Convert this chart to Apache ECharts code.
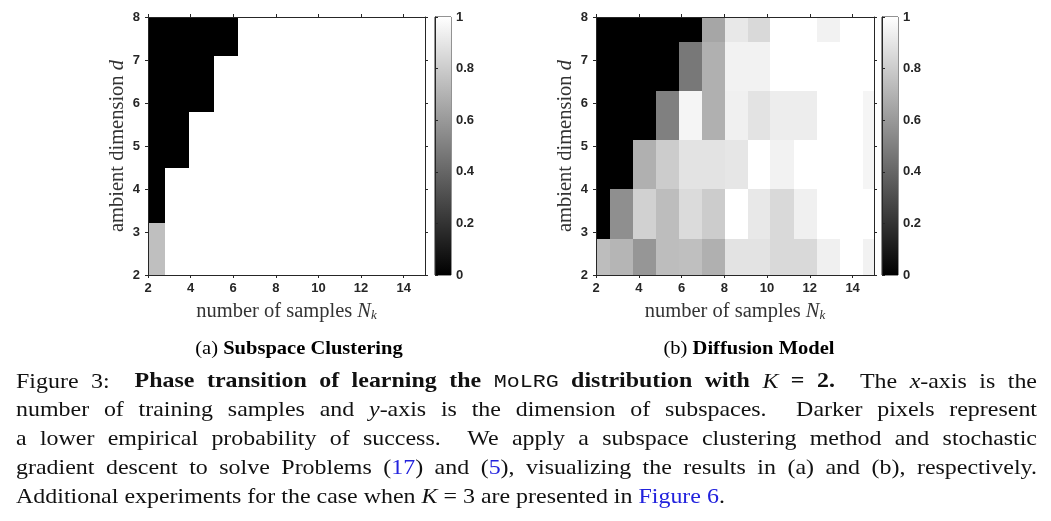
<!DOCTYPE html>
<html>
<head>
<meta charset="utf-8">
<script src="https://cdn.jsdelivr.net/npm/echarts@6/dist/echarts.min.js"></script>
<style>
  html, body { margin: 0; padding: 0; background: #fff; }
  #main { width: 1051px; height: 521px; }
</style>
</head>
<body>
<div id="main"></div>
<script>
// tick labels
const nkTicks = [2, 4, 6, 8, 10, 12, 14];
const dTicks = [2, 3, 4, 5, 6, 7, 8];
const cbTicks = [0, 0.2, 0.4, 0.6, 0.8, 1];

// (a) subspace clustering: bin edges and success rate, rows from d=2 upward
const aNkEdges = [2, 2.78, 3.92, 5.08, 6.21, 7.36, 8.51, 9.66, 10.81, 11.96, 13.11, 14.26, 15];
const aDEdges = [2, 3.21, 4.5, 5.79, 7.09, 8];
const aProb = [
    [0.75, 1, 1, 1, 1, 1, 1, 1, 1, 1, 1, 1],
    [0, 1, 1, 1, 1, 1, 1, 1, 1, 1, 1, 1],
    [0, 0, 1, 1, 1, 1, 1, 1, 1, 1, 1, 1],
    [0, 0, 0, 1, 1, 1, 1, 1, 1, 1, 1, 1],
    [0, 0, 0, 0, 1, 1, 1, 1, 1, 1, 1, 1]
];

// (b) diffusion model
const bNkEdges = [2, 2.67, 3.73, 4.82, 5.89, 6.96, 8.02, 9.12, 10.16, 11.26, 12.32, 13.41, 14.49, 15];
const bDEdges = [2, 2.84, 3.99, 5.15, 6.28, 7.43, 8];
const bProb = [
    [0.74, 0.71, 0.59, 0.74, 0.75, 0.69, 0.89, 0.89, 0.85, 0.85, 0.94, 1, 0.95],
    [0, 0.56, 0.82, 0.74, 0.86, 0.80, 1, 0.91, 0.85, 0.94, 1, 1, 1],
    [0, 0, 0.69, 0.80, 0.89, 0.89, 0.90, 1, 0.95, 1, 1, 1, 0.96],
    [0, 0, 0, 0.50, 0.96, 0.69, 0.94, 0.89, 0.93, 0.93, 1, 1, 0.96],
    [0, 0, 0, 0, 0.47, 0.69, 0.95, 0.95, 1, 1, 1, 1, 1],
    [0, 0, 0, 0, 0, 0.65, 0.91, 0.85, 1, 1, 0.95, 1, 1]
];

// caption text
const capLines = [
    [['Figure 3:  ', 'n'], ['Phase transition of learning the ', 'b'], ['MoLRG', 'm'], [' distribution with ', 'b'], ['K', 'i'], [' = 2.', 'b'], ['  The ', 'n'], ['x', 'i'], ['-axis is the', 'n']],
    [['number of training samples and ', 'n'], ['y', 'i'], ['-axis is the dimension of subspaces.  Darker pixels represent', 'n']],
    [['a lower empirical probability of success.  We apply a subspace clustering method and stochastic', 'n']],
    [['gradient descent to solve Problems (', 'n'], ['17', 'l'], [') and (', 'n'], ['5', 'l'], ['), visualizing the results in (a) and (b), respectively.', 'n']],
    [['Additional experiments for the case when ', 'n'], ['K', 'i'], [' = 3 are presented in ', 'n'], ['Figure 6', 'l'], ['.', 'n']]
];

const SERIF = 'Liberation Serif';
const SANS = 'Liberation Sans';
const AX = '#262626';

const capStyles = {
    n: { fontFamily: SERIF, fontWeight: 'normal', fontStyle: 'normal', fill: '#111', size: 21 },
    b: { fontFamily: SERIF, fontWeight: 'bold', fontStyle: 'normal', fill: '#111', size: 21 },
    i: { fontFamily: SERIF, fontWeight: 'normal', fontStyle: 'italic', fill: '#111', size: 21 },
    m: { fontFamily: 'Liberation Mono', fontWeight: 'normal', fontStyle: 'normal', fill: '#111', size: 19 },
    l: { fontFamily: SERIF, fontWeight: 'normal', fontStyle: 'normal', fill: '#2222dd', size: 21 }
};
const CAP_SX = 1.14;   // Liberation Serif is narrower than Computer Modern

function cells(nkEdges, dEdges, prob) {
    const out = [];
    prob.forEach((row, r) => {
        row.forEach((v, c) => {
            out.push([nkEdges[c], nkEdges[c + 1], dEdges[r], dEdges[r + 1], v]);
        });
    });
    return out;
}

// snap to whole pixels so neighbouring cells meet without seams
function renderCell(params, api) {
    const p0 = api.coord([api.value(0), api.value(3)]).map(Math.round);
    const p1 = api.coord([api.value(1), api.value(2)]).map(Math.round);
    return {
        type: 'rect',
        shape: { x: p0[0], y: p0[1], width: p1[0] - p0[0], height: p1[1] - p0[1] },
        style: { fill: api.visual('color') }
    };
}

function renderBar(params, api) {
    const p0 = api.coord([0, 1]);
    const p1 = api.coord([1, 0]);
    return {
        type: 'rect',
        shape: { x: p0[0], y: p0[1], width: p1[0] - p0[0], height: p1[1] - p0[1] },
        style: {
            fill: new echarts.graphic.LinearGradient(0, 1, 0, 0, [
                { offset: 0, color: '#000000' },
                { offset: 1, color: '#ffffff' }
            ])
        }
    };
}

const tickLabel = { color: AX, fontFamily: SANS, fontWeight: 'bold', fontSize: 13 };
const axLine = { show: true, lineStyle: { color: AX, width: 1 } };
const axTick = { show: true, inside: false, length: 3, lineStyle: { color: AX, width: 1 } };
const nameRich = {
    i: { fontFamily: SERIF, fontStyle: 'italic', fontSize: 20.5, color: '#333' },
    s: { fontFamily: SERIF, fontStyle: 'italic', fontSize: 13, color: '#333', verticalAlign: 'bottom', lineHeight: 12 }
};

function heatAxes(gi) {
    const xs = [
        {
            gridIndex: gi, type: 'value', min: 2, max: 15, position: 'bottom', z: 5,
            axisLine: axLine, axisTick: Object.assign({ customValues: nkTicks }, axTick),
            axisLabel: Object.assign({ customValues: nkTicks, margin: 7 }, tickLabel),
            splitLine: { show: false },
            name: 'number of samples {i|N}{s|k}', nameLocation: 'middle', nameGap: 26,
            nameTextStyle: { fontFamily: SERIF, fontSize: 20.5, color: '#333', rich: nameRich }
        },
        {
            gridIndex: gi, type: 'value', min: 2, max: 15, position: 'top', z: 5,
            axisLine: axLine, axisTick: Object.assign({ customValues: nkTicks }, axTick),
            axisLabel: { show: false }, splitLine: { show: false }
        }
    ];
    const ys = [
        {
            gridIndex: gi, type: 'value', min: 2, max: 8, position: 'left', z: 5,
            axisLine: axLine, axisTick: Object.assign({ customValues: dTicks }, axTick),
            axisLabel: Object.assign({ customValues: dTicks, margin: 8 }, tickLabel),
            splitLine: { show: false },
            name: 'ambient dimension {i|d}', nameLocation: 'middle', nameGap: 20,
            nameTextStyle: { fontFamily: SERIF, fontSize: 20.5, color: '#333', rich: nameRich }
        },
        {
            gridIndex: gi, type: 'value', min: 2, max: 8, position: 'right', z: 5,
            axisLine: axLine, axisTick: Object.assign({ customValues: dTicks }, axTick),
            axisLabel: { show: false }, splitLine: { show: false }
        }
    ];
    return { xs, ys };
}

function barAxes(gi) {
    return {
        x: { gridIndex: gi, type: 'value', min: 0, max: 1, show: false },
        y: {
            gridIndex: gi, type: 'value', min: 0, max: 1, position: 'right', z: 5,
            axisLine: axLine, axisTick: Object.assign({ customValues: cbTicks }, axTick),
            axisLabel: Object.assign({ customValues: cbTicks, margin: 5 }, tickLabel),
            splitLine: { show: false }
        }
    };
}

// caption, justified like the LaTeX paragraph
function captionGraphics() {
    const ctx = document.createElement('canvas').getContext('2d');
    const capX = 16, capW = 1021, capY0 = 382, capDY = 28.8;
    const els = [];
    capLines.forEach((line, li) => {
        const toks = [];
        line.forEach(([txt, k]) => {
            txt.split(/( )/).forEach(t => { if (t) toks.push({ t, st: capStyles[k] }); });
        });
        let natural = 0, nSp = 0;
        toks.forEach(o => {
            ctx.font = o.st.fontStyle + ' ' + o.st.fontWeight + ' ' + o.st.size + 'px "' + o.st.fontFamily + '"';
            o.w = ctx.measureText(o.t).width * CAP_SX;
            natural += o.w;
            if (o.t === ' ') nSp++;
        });
        const extra = li < capLines.length - 1 ? (capW - natural) / nSp : 0;
        let x = capX;
        toks.forEach(o => {
            if (o.t === ' ') { x += o.w + extra; return; }
            els.push({
                type: 'text', x: x, y: capY0 + li * capDY, scaleX: CAP_SX, silent: true,
                style: {
                    text: o.t, fill: o.st.fill, fontFamily: o.st.fontFamily, fontSize: o.st.size,
                    fontWeight: o.st.fontWeight, fontStyle: o.st.fontStyle,
                    align: 'left', verticalAlign: 'middle'
                }
            });
            x += o.w;
        });
    });
    return els;
}

const chart = echarts.init(document.getElementById('main'), null, { renderer: 'canvas' });

const a = heatAxes(0), b = heatAxes(2);
const ca = barAxes(1), cb = barAxes(3);

const subRich = {
    n: { fontFamily: SERIF, fontSize: 19, color: '#111' },
    b: { fontFamily: SERIF, fontSize: 19, fontWeight: 'bold', color: '#111' }
};

const option = {
    animation: false,
    backgroundColor: '#ffffff',
    grid: [
        { left: 148, top: 17, width: 277, height: 258 },
        { left: 435, top: 17, width: 16, height: 258, show: true, borderColor: AX, borderWidth: 1 },
        { left: 596, top: 17, width: 278, height: 258 },
        { left: 882, top: 17, width: 16, height: 258, show: true, borderColor: AX, borderWidth: 1 }
    ],
    xAxis: [a.xs[0], a.xs[1], ca.x, b.xs[0], b.xs[1], cb.x],
    yAxis: [a.ys[0], a.ys[1], ca.y, b.ys[0], b.ys[1], cb.y],
    visualMap: {
        type: 'continuous', show: false, min: 0, max: 1, dimension: 4,
        seriesIndex: [0, 1],
        inRange: { color: ['#000000', '#ffffff'] }
    },
    series: [
        { type: 'custom', xAxisIndex: 0, yAxisIndex: 0, renderItem: renderCell, data: cells(aNkEdges, aDEdges, aProb), encode: { x: [0, 1], y: [2, 3] } },
        { type: 'custom', xAxisIndex: 3, yAxisIndex: 3, renderItem: renderCell, data: cells(bNkEdges, bDEdges, bProb), encode: { x: [0, 1], y: [2, 3] } },
        { type: 'custom', xAxisIndex: 2, yAxisIndex: 2, renderItem: renderBar, data: [[0, 1]] },
        { type: 'custom', xAxisIndex: 5, yAxisIndex: 5, renderItem: renderBar, data: [[0, 1]] }
    ],
    graphic: [
        {
            type: 'text', x: 299, y: 349, scaleX: 1.08, silent: true,
            style: { text: '{n|(a) }{b|Subspace Clustering}', rich: subRich, align: 'center', verticalAlign: 'middle' }
        },
        {
            type: 'text', x: 749, y: 349, scaleX: 1.08, silent: true,
            style: { text: '{n|(b) }{b|Diffusion Model}', rich: subRich, align: 'center', verticalAlign: 'middle' }
        }
    ].concat(captionGraphics())
};

chart.setOption(option);
</script>
</body>
</html>
